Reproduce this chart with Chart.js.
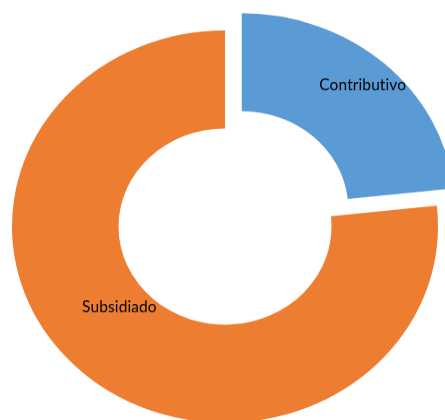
<!DOCTYPE html>
<html>
<head>
<meta charset="utf-8">
<script src="https://cdn.jsdelivr.net/npm/chart.js@4"></script>
<style>
  html, body { margin: 0; padding: 0; background: #fff; overflow: hidden; width: 445px; height: 420px; }
  /* the reference is squashed vertically, so squash the drawn canvas the same way */
  #chart { display: block; transform: scaleY(0.921); transform-origin: 0 0; }
</style>
</head>
<body>
<canvas id="chart" width="445" height="456"></canvas>
<script>
const categories = ["Contributivo", "Subsidiado"];
const shares = [23.3, 76.7];
const colors = ["#5B9BD5", "#ED7D31"];
const explode = [100, 0]; // chart.js draws offset / 4

// where each label sits inside its slice: t along the arc, r between inner and outer edge
const labelSpots = [{ t: 0.5, r: 0.70 }, { t: 0.53, r: 0.29 }];
const squash = 0.921;

const sliceLabels = {
  id: "sliceLabels",
  afterDatasetsDraw(chart) {
    const ctx = chart.ctx;
    const arcs = chart.getDatasetMeta(0).data;
    arcs.forEach((arc, i) => {
      const p = arc.getProps(["x", "y", "startAngle", "endAngle", "innerRadius", "outerRadius"], true);
      const half = (p.startAngle + p.endAngle) / 2;
      const off = (arc.options.offset || 0) / 4;
      const spot = labelSpots[i];
      const a = p.startAngle + spot.t * (p.endAngle - p.startAngle);
      const r = p.innerRadius + spot.r * (p.outerRadius - p.innerRadius);
      const x = p.x + Math.cos(half) * off + Math.cos(a) * r;
      const y = p.y + Math.sin(half) * off + Math.sin(a) * r;
      ctx.save();
      ctx.translate(x, y);
      ctx.scale(1, 1 / squash); // text itself is not squashed
      ctx.font = "15.5px Lato";
      ctx.letterSpacing = "0.1px"; // no "ti" ligature
      ctx.fillStyle = "#000";
      ctx.textAlign = "center";
      ctx.textBaseline = "middle";
      ctx.fillText(categories[i], 0, 0);
      ctx.restore();
    });
  },
};

new Chart(document.getElementById("chart"), {
  type: "doughnut",
  data: {
    labels: categories,
    datasets: [{
      data: shares,
      backgroundColor: colors,
      borderWidth: 0,
      offset: explode,
      hoverOffset: 0,
      clip: false,
    }],
  },
  options: {
    responsive: false,
    devicePixelRatio: 1,
    animation: false,
    radius: 213,
    cutout: "50%",
    layout: { padding: { top: 36, bottom: 0, left: 12, right: 7 } },
    plugins: { legend: { display: false }, tooltip: { enabled: false } },
  },
  plugins: [sliceLabels],
});
</script>
</body>
</html>
